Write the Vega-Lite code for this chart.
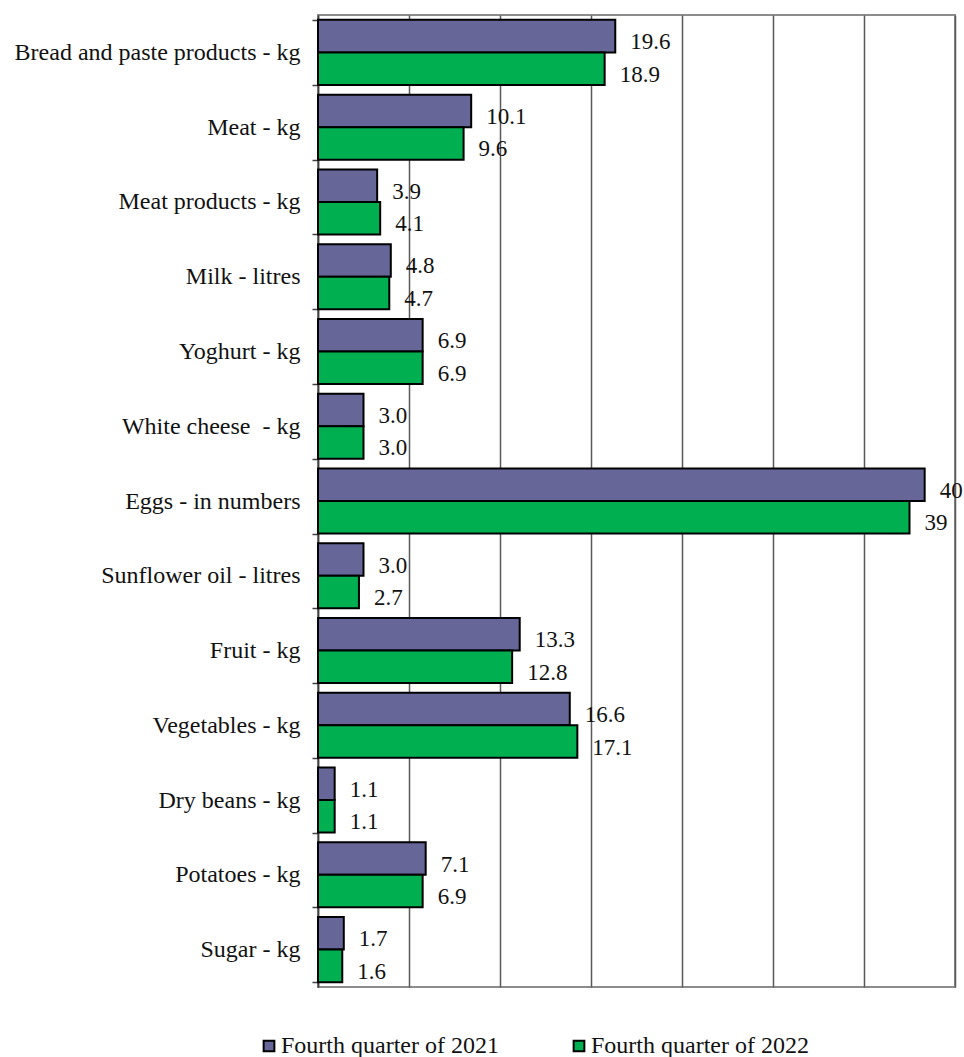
{
  "$schema": "https://vega.github.io/schema/vega-lite/v6.json",
  "width": 637,
  "height": 972,
  "autosize": {"type": "none"},
  "padding": {"left": 318, "top": 15, "right": 9, "bottom": 70},
  "background": "white",
  "config": {
    "font": "Liberation Serif",
    "view": {"stroke": "#8c8c8c", "strokeWidth": 2}
  },
  "data": {
    "values": [
      {"cat": "Bread and paste products - kg", "series": "Fourth quarter of 2021", "value": 19.6, "label": "19.6"},
      {"cat": "Bread and paste products - kg", "series": "Fourth quarter of 2022", "value": 18.9, "label": "18.9"},
      {"cat": "Meat - kg", "series": "Fourth quarter of 2021", "value": 10.1, "label": "10.1"},
      {"cat": "Meat - kg", "series": "Fourth quarter of 2022", "value": 9.6, "label": "9.6"},
      {"cat": "Meat products - kg", "series": "Fourth quarter of 2021", "value": 3.9, "label": "3.9"},
      {"cat": "Meat products - kg", "series": "Fourth quarter of 2022", "value": 4.1, "label": "4.1"},
      {"cat": "Milk - litres", "series": "Fourth quarter of 2021", "value": 4.8, "label": "4.8"},
      {"cat": "Milk - litres", "series": "Fourth quarter of 2022", "value": 4.7, "label": "4.7"},
      {"cat": "Yoghurt - kg", "series": "Fourth quarter of 2021", "value": 6.9, "label": "6.9"},
      {"cat": "Yoghurt - kg", "series": "Fourth quarter of 2022", "value": 6.9, "label": "6.9"},
      {"cat": "White cheese \u00a0- kg", "series": "Fourth quarter of 2021", "value": 3.0, "label": "3.0"},
      {"cat": "White cheese \u00a0- kg", "series": "Fourth quarter of 2022", "value": 3.0, "label": "3.0"},
      {"cat": "Eggs - in numbers", "series": "Fourth quarter of 2021", "value": 40, "label": "40"},
      {"cat": "Eggs - in numbers", "series": "Fourth quarter of 2022", "value": 39, "label": "39"},
      {"cat": "Sunflower oil - litres", "series": "Fourth quarter of 2021", "value": 3.0, "label": "3.0"},
      {"cat": "Sunflower oil - litres", "series": "Fourth quarter of 2022", "value": 2.7, "label": "2.7"},
      {"cat": "Fruit - kg", "series": "Fourth quarter of 2021", "value": 13.3, "label": "13.3"},
      {"cat": "Fruit - kg", "series": "Fourth quarter of 2022", "value": 12.8, "label": "12.8"},
      {"cat": "Vegetables - kg", "series": "Fourth quarter of 2021", "value": 16.6, "label": "16.6"},
      {"cat": "Vegetables - kg", "series": "Fourth quarter of 2022", "value": 17.1, "label": "17.1"},
      {"cat": "Dry beans - kg", "series": "Fourth quarter of 2021", "value": 1.1, "label": "1.1"},
      {"cat": "Dry beans - kg", "series": "Fourth quarter of 2022", "value": 1.1, "label": "1.1"},
      {"cat": "Potatoes - kg", "series": "Fourth quarter of 2021", "value": 7.1, "label": "7.1"},
      {"cat": "Potatoes - kg", "series": "Fourth quarter of 2022", "value": 6.9, "label": "6.9"},
      {"cat": "Sugar - kg", "series": "Fourth quarter of 2021", "value": 1.7, "label": "1.7"},
      {"cat": "Sugar - kg", "series": "Fourth quarter of 2022", "value": 1.6, "label": "1.6"}
    ]
  },
  "encoding": {
    "y": {
      "field": "cat", "type": "nominal", "sort": null,
      "scale": {"paddingInner": 0.13, "paddingOuter": 0.065},
      "axis": {
        "title": null, "tickBand": "extent", "tickSize": 6, "tickColor": "#404040", "tickWidth": 1.5,
        "domainColor": "#404040", "domainWidth": 1.5,
        "labelFont": "Liberation Serif", "labelFontSize": 24, "labelColor": "#111111",
        "labelPadding": 12, "labelLimit": 400
      }
    },
    "x": {
      "field": "value", "type": "quantitative",
      "scale": {"domain": [0, 42], "nice": false, "zero": true},
      "axis": {
        "title": null, "values": [0, 6, 12, 18, 24, 30, 36, 42], "labels": false, "ticks": false, "domain": false,
        "grid": true, "gridColor": "#5a5a5a", "gridWidth": 1.5
      }
    },
    "yOffset": {"field": "series", "type": "nominal"}
  },
  "layer": [
    {
      "mark": {"type": "bar", "stroke": "#000000", "strokeWidth": 2},
      "encoding": {
        "color": {
          "field": "series", "type": "nominal",
          "scale": {"domain": ["Fourth quarter of 2021", "Fourth quarter of 2022"], "range": ["#666699", "#00AF50"]},
          "legend": {
            "title": null, "orient": "none", "direction": "horizontal",
            "legendX": -61, "legendY": 1019,
            "symbolType": "square", "symbolSize": 115, "symbolStrokeColor": "#000000", "symbolStrokeWidth": 2,
            "labelFont": "Liberation Serif", "labelFontSize": 24, "labelColor": "#111111",
            "labelOffset": 0, "columnPadding": 68, "labelLimit": 400
          }
        }
      }
    },
    {
      "mark": {"type": "text", "align": "left", "baseline": "middle", "dx": 15, "dy": 6, "font": "Liberation Serif", "fontSize": 23, "color": "#111111"},
      "encoding": {"text": {"field": "label"}}
    }
  ]
}
